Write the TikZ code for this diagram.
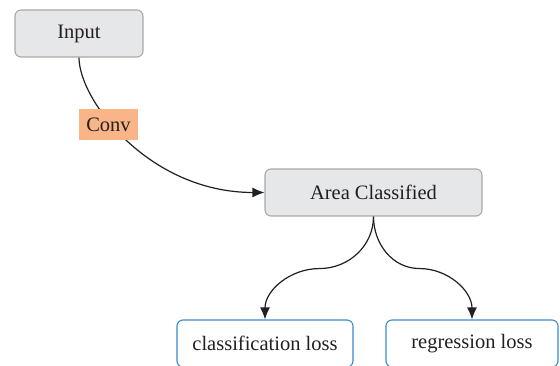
\documentclass[tikz,border=0pt]{standalone}
\usepackage{fontspec}
\setmainfont{Liberation Serif}
\usetikzlibrary{arrows.meta}
\definecolor{boxgray}{HTML}{E6E7E9}
\definecolor{edgegray}{HTML}{A7A9AC}
\definecolor{convfill}{HTML}{F9B487}
\definecolor{lossblue}{HTML}{3C89C9}
\definecolor{inkdark}{HTML}{231F20}
\tikzset{
  graybox/.style={draw=edgegray, fill=boxgray, line width=1.1pt, rounded corners=6pt,
    inner sep=0pt, text=inkdark},
  lossbox/.style={draw=lossblue, fill=white, line width=1.1pt, rounded corners=6pt,
    inner sep=0pt, minimum height=47pt, text=inkdark},
  convbox/.style={fill=convfill, inner sep=0pt, minimum width=59pt, minimum height=31pt, text=inkdark},
  link/.style={draw=inkdark, line width=1.2pt},
  arrowlink/.style={link, -{Latex[length=12pt,width=10pt]}},
}
\begin{document}
\begin{tikzpicture}[x=1pt, y=-1pt, font=\fontsize{20.5}{24}\selectfont]
  \useasboundingbox (0,0) rectangle (560,366);

  \node[graybox, minimum width=128pt, minimum height=47pt] (input) at (79,33.5) {Input};
  \node[graybox, minimum width=217pt, minimum height=47pt] (area) at (373.5,192.5) {Area Classified};
  \node[lossbox, minimum width=176pt] (closs) at (265,343.5) {classification loss};
  \node[lossbox, minimum width=172pt] (rloss) at (472,343.5) {regression loss};

  % feature path through the convolution stage
  \draw[arrowlink] (input.south) .. controls +(0,43) and +(-115,0) .. (area.west);
  \node[convbox] (conv) at (108.5,124.5) {Conv};

  % two output branches, each bending out sideways and back down
  \draw[arrowlink] (area.south) to[out=-90, in=0] ++(-54,52) to[out=180, in=90] (closs.north);
  \draw[arrowlink] (area.south) to[out=-90, in=180] ++(46,52) to[out=0, in=90] (rloss.north);
\end{tikzpicture}
\end{document}
